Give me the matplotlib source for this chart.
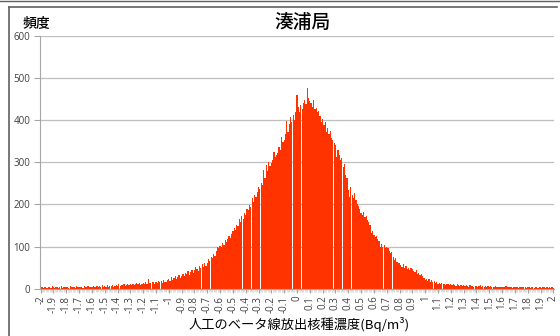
import numpy as np
import matplotlib
matplotlib.use('Agg')
import matplotlib.pyplot as plt
from matplotlib.lines import Line2D

jp_font = ['Noto Sans CJK JP', 'DejaVu Sans']

title = '湊浦局'
y_title = '頻度'
x_title = '人工のベータ線放出核種濃度(Bq/m³)'

# klasy co 0.01 od -2 do 2
bin_labels = ['%.2f' % (i / 100) for i in range(-200, 201)]

tick_labels = ['-2', '-1.9', '-1.8', '-1.7', '-1.6', '-1.5', '-1.4', '-1.3', '-1.2', '-1.1',
               '-1', '-0.9', '-0.8', '-0.7', '-0.6', '-0.5', '-0.4', '-0.3', '-0.2', '-0.1',
               '0', '0.1', '0.2', '0.3', '0.4', '0.5', '0.6', '0.7', '0.8', '0.9',
               '1', '1.1', '1.2', '1.3', '1.4', '1.5', '1.6', '1.7', '1.8', '1.9', '2']

counts = [
    2, 4, 1, 3, 5, 2, 3, 4, 2, 6,                 # -2.0
    3, 2, 5, 4, 1, 3, 6, 2, 4, 3,                 # -1.9
    4, 3, 2, 6, 4, 5, 3, 2, 7, 4,                 # -1.8
    5, 3, 4, 2, 6, 5, 4, 7, 3, 5,                 # -1.7
    4, 6, 5, 3, 7, 4, 6, 5, 8, 4,                 # -1.6
    6, 5, 8, 4, 7, 6, 9, 5, 7, 8,                 # -1.5
    7, 10, 6, 9, 8, 11, 7, 9, 12, 8,              # -1.4
    10, 8, 12, 9, 11, 14, 10, 13, 9, 12,          # -1.3
    13, 11, 16, 12, 22, 14, 13, 17, 15, 12,       # -1.2
    16, 14, 19, 15, 18, 13, 21, 17, 16, 20,       # -1.1
    22, 18, 28, 21, 25, 30, 23, 27, 33, 26,       # -1.0
    31, 36, 29, 38, 34, 42, 33, 40, 45, 37,       # -0.9
    44, 52, 47, 41, 55, 48, 58, 51, 62, 54,       # -0.8
    62, 70, 66, 76, 72, 82, 78, 90, 100, 96,      # -0.7
    101, 98, 108, 104, 115, 110, 118, 124, 120, 130,   # -0.6
    138, 145, 140, 152, 148, 165, 158, 172, 166, 180,  # -0.5
    175, 190, 186, 198, 194, 215, 205, 222, 218, 230,  # -0.4
    242, 236, 250, 245, 281, 262, 293, 278, 300, 290,  # -0.3
    298, 305, 325, 312, 318, 322, 336, 330, 360, 348,  # -0.2
    352, 368, 398, 372, 390, 408, 395, 412, 400, 418,  # -0.1
    459, 430, 420, 435, 425, 440, 448, 438, 476, 452,  # 0.0
    445, 440, 432, 448, 425, 428, 418, 422, 410, 396,  # 0.1
    402, 388, 395, 372, 380, 368, 375, 358, 352, 345,  # 0.2
    340, 313, 328, 318, 305, 310, 289, 295, 270, 262,  # 0.3
    234, 218, 242, 222, 215, 228, 210, 202, 196, 188,  # 0.4
    179, 174, 182, 170, 172, 162, 158, 150, 132, 138,  # 0.5
    128, 123, 126, 118, 112, 100, 106, 98, 104, 96,    # 0.6
    98, 96, 90, 84, 88, 76, 68, 72, 64, 60,       # 0.7
    62, 56, 52, 58, 50, 54, 47, 49, 45, 48,       # 0.8
    46, 42, 40, 44, 36, 38, 32, 34, 29, 26,       # 0.9
    21, 24, 19, 22, 17, 20, 17, 18, 14, 15,       # 1.0
    12, 14, 11, 13, 10, 11, 9, 11, 10, 9,        # 1.1
    10, 8, 11, 9, 7, 10, 8, 6, 9, 7,              # 1.2
    8, 6, 9, 7, 5, 8, 6, 7, 5, 6,                 # 1.3
    7, 5, 6, 8, 4, 6, 5, 7, 4, 6,                 # 1.4
    5, 6, 4, 5, 3, 6, 4, 5, 3, 4,                 # 1.5
    4, 5, 3, 6, 4, 3, 5, 4, 2, 4,                 # 1.6
    4, 3, 5, 2, 4, 3, 4, 5, 3, 2,                 # 1.7
    3, 4, 2, 5, 3, 2, 4, 3, 2, 3,                 # 1.8
    3, 2, 4, 3, 2, 3, 1, 4, 2, 3,                 # 1.9
    2,                                            # 2.0
]

W, H = 560, 336
fig = plt.figure(figsize=(W / 100, H / 100), dpi=100)
fig.patch.set_facecolor('white')

ax = fig.add_axes([40 / W, 1 - 288.7 / H, 514 / W, 253 / H])
x = np.arange(len(bin_labels))
ax.bar(x, counts, width=0.95, color='#ff3300', linewidth=0, zorder=2)

ax.set_xlim(-0.5, len(bin_labels) - 0.5)
ax.set_ylim(0, 600)
ax.set_yticks(range(0, 601, 100))
ax.set_xticks(x[::10])
ax.set_xticklabels(tick_labels, rotation=90, fontsize=7, family='Open Sans', color='#404040')
ax.set_xticks(x, minor=True)
for lab in ax.get_yticklabels():
    lab.set_fontsize(7)
    lab.set_family('Open Sans')
    lab.set_color('#404040')

ax.yaxis.grid(True, color='#bfbfbf', linewidth=0.9)
ax.set_axisbelow(True)
for s in ['top', 'right']:
    ax.spines[s].set_visible(False)
ax.spines['left'].set_color('#a6a6a6')
ax.spines['bottom'].set_color('#a6a6a6')
ax.tick_params(axis='y', length=4, color='#a6a6a6', pad=3)
ax.tick_params(axis='x', which='major', length=3, color='#a6a6a6', pad=2)
ax.tick_params(axis='x', which='minor', length=2, color='#d0d0d0', width=0.5)

# tytuly
fig.text(302 / W, 1 - 22 / H, title, ha='center', va='center', fontsize=13.5,
         fontweight='medium', family=jp_font)
fig.text(36 / W, 1 - 23 / H, y_title, ha='center', va='center', fontsize=10,
         fontweight='medium', family=jp_font)
fig.text(299 / W, 1 - 324 / H, x_title, ha='center', va='center', fontsize=9.5, family=jp_font)

# ramka wykresu
fig.add_artist(Line2D([0, 1], [1 - 1.3 / H, 1 - 1.3 / H], color='#606060', linewidth=1.0))
fig.add_artist(Line2D([9 / W, 557 / W], [1 - 7.3 / H, 1 - 7.3 / H], color='#606060', linewidth=1.2))
fig.add_artist(Line2D([9 / W, 9 / W], [0, 1 - 7.3 / H], color='#606060', linewidth=1.2))

fig.savefig('out.png', dpi=100)
